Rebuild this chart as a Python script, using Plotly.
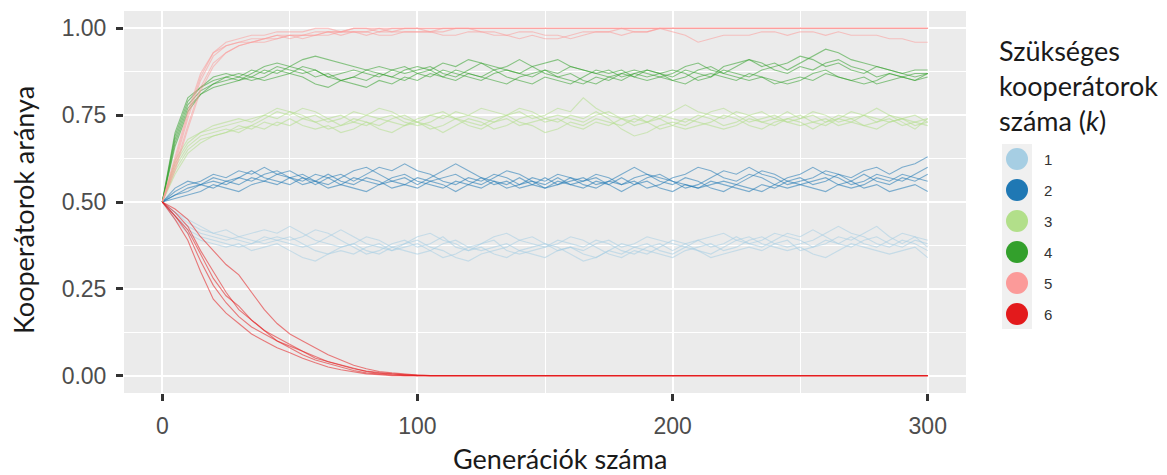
import plotly.graph_objects as go

# Generation grid shared by every run
generations = list(range(0, 301, 5))

# Proportion of cooperators per run, one list per replicate, grouped by k
k1_runs = [
    [0.50, 0.46, 0.43, 0.41, 0.40, 0.39, 0.40, 0.41, 0.42, 0.41,
     0.43, 0.41, 0.39, 0.38, 0.37, 0.38, 0.40, 0.39, 0.37, 0.36,
     0.35, 0.36, 0.38, 0.39, 0.37, 0.36, 0.37, 0.38, 0.36, 0.35,
     0.34, 0.36, 0.37, 0.36, 0.38, 0.39, 0.37, 0.38, 0.40, 0.39,
     0.38, 0.37, 0.39, 0.40, 0.41, 0.39, 0.38, 0.37, 0.39, 0.41,
     0.40, 0.42, 0.40, 0.38, 0.37, 0.39, 0.40, 0.38, 0.37, 0.39,
     0.38],
    [0.50, 0.47, 0.44, 0.42, 0.41, 0.42, 0.40, 0.39, 0.38, 0.39,
     0.40, 0.38, 0.36, 0.35, 0.37, 0.38, 0.36, 0.35, 0.37, 0.38,
     0.39, 0.37, 0.36, 0.34, 0.33, 0.35, 0.36, 0.37, 0.39, 0.40,
     0.38, 0.36, 0.37, 0.35, 0.34, 0.36, 0.38, 0.37, 0.36, 0.35,
     0.34, 0.36, 0.37, 0.38, 0.36, 0.37, 0.39, 0.40, 0.38, 0.37,
     0.38, 0.39, 0.41, 0.43, 0.41, 0.40, 0.38, 0.37, 0.39, 0.38,
     0.36],
    [0.50, 0.45, 0.41, 0.39, 0.38, 0.37, 0.38, 0.36, 0.37, 0.38,
     0.36, 0.34, 0.33, 0.35, 0.36, 0.35, 0.37, 0.38, 0.36, 0.38,
     0.40, 0.41, 0.39, 0.38, 0.36, 0.37, 0.35, 0.34, 0.36, 0.37,
     0.38, 0.37, 0.35, 0.33, 0.34, 0.36, 0.35, 0.37, 0.38, 0.36,
     0.35, 0.37, 0.36, 0.35, 0.37, 0.39, 0.40, 0.38, 0.37, 0.36,
     0.37, 0.35, 0.34, 0.36, 0.38, 0.37, 0.36, 0.35, 0.36, 0.37,
     0.34],
    [0.50, 0.47, 0.45, 0.43, 0.41, 0.40, 0.39, 0.38, 0.40, 0.39,
     0.38, 0.37, 0.38, 0.40, 0.42, 0.40, 0.38, 0.37, 0.36, 0.37,
     0.38, 0.36, 0.34, 0.35, 0.37, 0.38, 0.40, 0.41, 0.39, 0.38,
     0.37, 0.39, 0.38, 0.37, 0.39, 0.38, 0.36, 0.35, 0.37, 0.38,
     0.36, 0.38, 0.39, 0.37, 0.38, 0.40, 0.38, 0.39, 0.41, 0.40,
     0.39, 0.37, 0.38, 0.40, 0.39, 0.41, 0.43, 0.40, 0.38, 0.40,
     0.39],
    [0.50, 0.46, 0.42, 0.40, 0.39, 0.38, 0.37, 0.38, 0.39, 0.40,
     0.39, 0.40, 0.42, 0.41, 0.39, 0.37, 0.35, 0.36, 0.38, 0.39,
     0.37, 0.38, 0.40, 0.37, 0.36, 0.38, 0.39, 0.36, 0.35, 0.36,
     0.37, 0.38, 0.40, 0.39, 0.37, 0.35, 0.34, 0.36, 0.35, 0.37,
     0.39, 0.38, 0.36, 0.34, 0.35, 0.36, 0.37, 0.36, 0.38, 0.39,
     0.36, 0.37, 0.39, 0.38, 0.40, 0.38, 0.37, 0.39, 0.41, 0.40,
     0.37],
]

k2_runs = [
    [0.50, 0.53, 0.55, 0.56, 0.58, 0.57, 0.59, 0.58, 0.60, 0.58,
     0.57, 0.55, 0.56, 0.54, 0.55, 0.57, 0.56, 0.55, 0.57, 0.58,
     0.56, 0.55, 0.54, 0.56, 0.55, 0.57, 0.56, 0.54, 0.55, 0.57,
     0.56, 0.58, 0.57, 0.55, 0.54, 0.56, 0.55, 0.57, 0.58, 0.56,
     0.55, 0.57, 0.56, 0.54, 0.53, 0.55, 0.57, 0.59, 0.58, 0.56,
     0.57, 0.55, 0.56, 0.58, 0.57, 0.59, 0.60, 0.58, 0.60, 0.61,
     0.63],
    [0.50, 0.52, 0.54, 0.55, 0.54, 0.56, 0.55, 0.57, 0.56, 0.58,
     0.59, 0.57, 0.55, 0.57, 0.58, 0.56, 0.58, 0.60, 0.59, 0.61,
     0.59, 0.58, 0.56, 0.55, 0.57, 0.56, 0.58, 0.57, 0.55, 0.56,
     0.54, 0.55, 0.57, 0.56, 0.58, 0.57, 0.55, 0.56, 0.54, 0.55,
     0.57, 0.58, 0.60, 0.59, 0.57, 0.56, 0.58, 0.57, 0.55, 0.57,
     0.58, 0.60, 0.58, 0.57, 0.55, 0.56, 0.58, 0.57, 0.56, 0.58,
     0.60],
    [0.50, 0.51, 0.52, 0.53, 0.55, 0.54, 0.53, 0.55, 0.56, 0.55,
     0.57, 0.56, 0.58, 0.57, 0.55, 0.54, 0.53, 0.55, 0.56, 0.55,
     0.54, 0.56, 0.55, 0.53, 0.55, 0.54, 0.56, 0.55, 0.57, 0.55,
     0.54, 0.56, 0.55, 0.54, 0.56, 0.55, 0.57, 0.55, 0.56, 0.54,
     0.53, 0.55, 0.54, 0.56, 0.55, 0.54, 0.53, 0.55, 0.54, 0.56,
     0.55, 0.54, 0.53, 0.55, 0.56, 0.54, 0.55, 0.53, 0.54, 0.55,
     0.53],
    [0.50, 0.54, 0.56, 0.55, 0.57, 0.56, 0.57, 0.56, 0.58, 0.59,
     0.57, 0.58, 0.56, 0.55, 0.57, 0.59, 0.60, 0.58, 0.56, 0.57,
     0.55, 0.57, 0.59, 0.61, 0.59, 0.57, 0.55, 0.56, 0.54, 0.55,
     0.57, 0.55, 0.56, 0.57, 0.55, 0.56, 0.58, 0.60, 0.58, 0.57,
     0.56, 0.54, 0.55, 0.57, 0.59, 0.58, 0.60, 0.58, 0.57, 0.55,
     0.56, 0.57, 0.59, 0.58, 0.56, 0.58, 0.56, 0.55, 0.57, 0.56,
     0.58],
    [0.50, 0.52, 0.53, 0.55, 0.56, 0.55, 0.57, 0.59, 0.57, 0.56,
     0.55, 0.57, 0.56, 0.58, 0.56, 0.55, 0.57, 0.56, 0.54, 0.55,
     0.57, 0.56, 0.57, 0.58, 0.56, 0.55, 0.57, 0.59, 0.58, 0.56,
     0.55, 0.57, 0.55, 0.56, 0.57, 0.55, 0.53, 0.55, 0.57, 0.58,
     0.56, 0.55, 0.54, 0.55, 0.56, 0.55, 0.54, 0.53, 0.55, 0.54,
     0.55, 0.56, 0.57, 0.55, 0.54, 0.55, 0.57, 0.56, 0.58, 0.57,
     0.56],
]

k3_runs = [
    [0.50, 0.61, 0.67, 0.70, 0.71, 0.72, 0.73, 0.74, 0.75, 0.74,
     0.76, 0.75, 0.73, 0.74, 0.72, 0.73, 0.75, 0.74, 0.73, 0.72,
     0.74, 0.75, 0.74, 0.76, 0.75, 0.74, 0.73, 0.75, 0.76, 0.74,
     0.75, 0.77, 0.76, 0.80, 0.77, 0.75, 0.74, 0.72, 0.73, 0.75,
     0.74, 0.73, 0.75, 0.74, 0.72, 0.73, 0.75, 0.76, 0.74, 0.73,
     0.74, 0.75, 0.73, 0.74, 0.76, 0.75, 0.73, 0.74, 0.72, 0.73,
     0.74],
    [0.50, 0.59, 0.65, 0.68, 0.69, 0.70, 0.71, 0.72, 0.74, 0.76,
     0.75, 0.77, 0.76, 0.74, 0.75, 0.73, 0.72, 0.74, 0.75, 0.73,
     0.72, 0.73, 0.75, 0.74, 0.72, 0.71, 0.73, 0.74, 0.72, 0.73,
     0.74, 0.73, 0.75, 0.74, 0.76, 0.74, 0.71, 0.69, 0.70, 0.72,
     0.73, 0.72, 0.74, 0.76, 0.77, 0.75, 0.73, 0.74, 0.75, 0.73,
     0.72, 0.73, 0.74, 0.72, 0.73, 0.75, 0.74, 0.73, 0.74, 0.72,
     0.73],
    [0.50, 0.60, 0.66, 0.69, 0.70, 0.71, 0.70, 0.72, 0.71, 0.73,
     0.72, 0.74, 0.73, 0.71, 0.72, 0.74, 0.73, 0.71, 0.70, 0.72,
     0.73, 0.71, 0.72, 0.74, 0.73, 0.72, 0.74, 0.75, 0.73, 0.72,
     0.70, 0.71, 0.73, 0.72, 0.74, 0.73, 0.72, 0.74, 0.73, 0.71,
     0.72, 0.74, 0.73, 0.72, 0.71, 0.72, 0.74, 0.73, 0.72, 0.74,
     0.75, 0.73, 0.72, 0.74, 0.73, 0.72, 0.71, 0.73, 0.74, 0.73,
     0.72],
    [0.50, 0.62, 0.68, 0.70, 0.72, 0.73, 0.74, 0.73, 0.75, 0.77,
     0.76, 0.74, 0.75, 0.73, 0.74, 0.76, 0.75, 0.77, 0.76, 0.74,
     0.73, 0.75, 0.76, 0.74, 0.75, 0.77, 0.76, 0.75, 0.77, 0.76,
     0.74, 0.75, 0.74, 0.73, 0.75, 0.76, 0.74, 0.75, 0.73, 0.74,
     0.76, 0.78, 0.76, 0.75, 0.74, 0.76, 0.75, 0.73, 0.74, 0.76,
     0.74, 0.76, 0.75, 0.73, 0.74, 0.75, 0.77, 0.75, 0.74, 0.75,
     0.73],
    [0.50, 0.58, 0.64, 0.67, 0.69, 0.70, 0.72, 0.71, 0.73, 0.72,
     0.74, 0.72, 0.71, 0.72, 0.70, 0.71, 0.73, 0.72, 0.74, 0.75,
     0.73, 0.72, 0.70, 0.72, 0.74, 0.73, 0.71, 0.72, 0.74, 0.75,
     0.73, 0.74, 0.72, 0.71, 0.73, 0.72, 0.74, 0.73, 0.75, 0.74,
     0.72, 0.71, 0.72, 0.73, 0.75, 0.74, 0.72, 0.71, 0.73, 0.74,
     0.73, 0.71, 0.73, 0.75, 0.74, 0.72, 0.73, 0.75, 0.73, 0.71,
     0.74],
]

k4_runs = [
    [0.50, 0.69, 0.79, 0.83, 0.85, 0.86, 0.87, 0.86, 0.88, 0.87,
     0.89, 0.91, 0.92, 0.91, 0.90, 0.89, 0.88, 0.89, 0.88, 0.87,
     0.88, 0.89, 0.87, 0.86, 0.88, 0.90, 0.89, 0.88, 0.87, 0.89,
     0.90, 0.91, 0.89, 0.88, 0.87, 0.88, 0.86, 0.87, 0.88, 0.87,
     0.86, 0.88, 0.87, 0.86, 0.89, 0.90, 0.91, 0.89, 0.90, 0.88,
     0.90, 0.92, 0.94, 0.93, 0.91, 0.90, 0.89, 0.88, 0.87, 0.86,
     0.87],
    [0.50, 0.67, 0.77, 0.81, 0.84, 0.85, 0.86, 0.85, 0.86, 0.88,
     0.87, 0.86, 0.84, 0.83, 0.85, 0.86, 0.85, 0.87, 0.86, 0.85,
     0.87, 0.88, 0.86, 0.85, 0.87, 0.86, 0.85, 0.84, 0.86, 0.87,
     0.88, 0.86, 0.85, 0.84, 0.86, 0.85, 0.87, 0.86, 0.88, 0.87,
     0.85, 0.86, 0.88, 0.89, 0.87, 0.86, 0.85, 0.86, 0.84, 0.85,
     0.86, 0.85, 0.87, 0.86, 0.85, 0.86, 0.84, 0.85, 0.86, 0.85,
     0.86],
    [0.50, 0.70, 0.80, 0.83, 0.86, 0.87, 0.86, 0.88, 0.87, 0.89,
     0.88, 0.87, 0.88, 0.86, 0.87, 0.88, 0.87, 0.86, 0.88, 0.89,
     0.87, 0.86, 0.88, 0.87, 0.86, 0.85, 0.87, 0.88, 0.87, 0.86,
     0.88, 0.87, 0.89, 0.88, 0.87, 0.86, 0.85, 0.87, 0.86, 0.87,
     0.88, 0.87, 0.85, 0.86, 0.88, 0.87, 0.86, 0.88, 0.89, 0.90,
     0.92, 0.91, 0.89, 0.90, 0.88, 0.87, 0.89, 0.88, 0.87, 0.88,
     0.88],
    [0.50, 0.68, 0.78, 0.82, 0.84, 0.86, 0.85, 0.87, 0.89, 0.90,
     0.89, 0.88, 0.86, 0.87, 0.85, 0.86, 0.88, 0.87, 0.86, 0.88,
     0.89, 0.88, 0.90, 0.89, 0.91, 0.90, 0.88, 0.86, 0.85, 0.84,
     0.86, 0.85, 0.84, 0.86, 0.88, 0.87, 0.88, 0.86, 0.85, 0.86,
     0.87, 0.89, 0.90, 0.88, 0.87, 0.89, 0.91, 0.90, 0.88, 0.87,
     0.89, 0.88, 0.90, 0.91, 0.89, 0.88, 0.86, 0.87, 0.86, 0.87,
     0.87],
    [0.50, 0.66, 0.76, 0.81, 0.83, 0.84, 0.85, 0.86, 0.85, 0.86,
     0.87, 0.89, 0.88, 0.86, 0.85, 0.84, 0.83, 0.85, 0.84, 0.86,
     0.85, 0.87, 0.86, 0.88, 0.87, 0.86, 0.88, 0.89, 0.91, 0.89,
     0.87, 0.86, 0.87, 0.85, 0.84, 0.86, 0.87, 0.88, 0.87, 0.86,
     0.85, 0.84, 0.86, 0.87, 0.86, 0.85, 0.87, 0.86, 0.85, 0.84,
     0.85, 0.87, 0.88, 0.86, 0.85, 0.84, 0.85, 0.87, 0.86, 0.85,
     0.87],
]

k5_runs = [
    [0.50, 0.61, 0.74, 0.85, 0.92, 0.95, 0.96, 0.97, 0.97, 0.98,
     0.98, 0.98, 0.99, 0.99, 0.99, 1.00, 1.00, 0.99, 1.00, 1.00,
     1.00, 1.00, 1.00, 1.00, 1.00, 1.00, 1.00, 1.00, 1.00, 1.00,
     1.00, 1.00, 1.00, 1.00, 1.00, 1.00, 1.00, 1.00, 1.00, 1.00,
     1.00, 1.00, 1.00, 1.00, 1.00, 1.00, 1.00, 1.00, 1.00, 1.00,
     1.00, 1.00, 1.00, 1.00, 1.00, 1.00, 1.00, 1.00, 1.00, 1.00,
     1.00],
    [0.50, 0.62, 0.75, 0.86, 0.93, 0.95, 0.96, 0.96, 0.97, 0.98,
     0.97, 0.98, 0.98, 0.99, 0.99, 0.99, 0.98, 0.99, 0.99, 1.00,
     1.00, 0.99, 0.99, 1.00, 1.00, 0.99, 0.99, 0.98, 0.99, 0.99,
     0.98, 0.98, 0.97, 0.98, 0.99, 0.99, 0.98, 0.99, 0.99, 1.00,
     0.99, 0.98, 0.96, 0.97, 0.98, 0.98, 0.98, 0.99, 0.99, 0.98,
     0.99, 0.99, 0.98, 0.99, 0.98, 0.98, 0.98, 0.97, 0.97, 0.96,
     0.96],
    [0.50, 0.60, 0.72, 0.83, 0.90, 0.93, 0.95, 0.96, 0.97, 0.97,
     0.98, 0.98, 0.98, 0.99, 0.98, 0.99, 0.99, 0.98, 0.98, 0.99,
     0.99, 0.99, 0.98, 0.98, 0.99, 0.99, 0.98, 0.98, 0.97, 0.98,
     0.97, 0.97, 0.98, 0.99, 0.99, 0.99, 1.00, 0.99, 0.99, 1.00,
     1.00, 1.00, 1.00, 1.00, 1.00, 1.00, 1.00, 1.00, 1.00, 1.00,
     1.00, 1.00, 1.00, 1.00, 1.00, 1.00, 1.00, 1.00, 1.00, 1.00,
     1.00],
    [0.50, 0.63, 0.76, 0.87, 0.93, 0.96, 0.97, 0.98, 0.98, 0.99,
     0.99, 0.99, 1.00, 1.00, 0.99, 1.00, 1.00, 1.00, 1.00, 1.00,
     1.00, 1.00, 1.00, 1.00, 1.00, 1.00, 1.00, 1.00, 1.00, 1.00,
     1.00, 1.00, 1.00, 1.00, 1.00, 1.00, 1.00, 1.00, 1.00, 1.00,
     1.00, 1.00, 1.00, 1.00, 1.00, 1.00, 1.00, 1.00, 1.00, 1.00,
     1.00, 1.00, 1.00, 1.00, 1.00, 1.00, 1.00, 1.00, 1.00, 1.00,
     1.00],
    [0.50, 0.59, 0.71, 0.82, 0.89, 0.93, 0.95, 0.96, 0.96, 0.97,
     0.98, 0.97, 0.98, 0.98, 0.99, 0.99, 0.99, 1.00, 0.99, 0.99,
     0.99, 0.99, 1.00, 1.00, 1.00, 1.00, 1.00, 1.00, 1.00, 1.00,
     1.00, 1.00, 1.00, 1.00, 1.00, 1.00, 1.00, 1.00, 1.00, 1.00,
     1.00, 1.00, 1.00, 1.00, 1.00, 1.00, 1.00, 1.00, 1.00, 1.00,
     1.00, 1.00, 1.00, 1.00, 1.00, 1.00, 1.00, 1.00, 1.00, 1.00,
     1.00],
]

k6_runs = [
    [0.50, 0.45, 0.39, 0.30, 0.22, 0.18, 0.15, 0.12, 0.10, 0.08,
     0.066, 0.05, 0.037, 0.025, 0.017, 0.01, 0.005, 0.003, 0.0, 0.0,
     0.0, 0.0, 0.0, 0.0, 0.0, 0.0, 0.0, 0.0, 0.0, 0.0,
     0.0, 0.0, 0.0, 0.0, 0.0, 0.0, 0.0, 0.0, 0.0, 0.0,
     0.0, 0.0, 0.0, 0.0, 0.0, 0.0, 0.0, 0.0, 0.0, 0.0,
     0.0, 0.0, 0.0, 0.0, 0.0, 0.0, 0.0, 0.0, 0.0, 0.0,
     0.0],
    [0.50, 0.46, 0.41, 0.33, 0.26, 0.21, 0.17, 0.14, 0.12, 0.10,
     0.08, 0.06, 0.045, 0.035, 0.025, 0.015, 0.008, 0.004, 0.002, 0.0,
     0.0, 0.0, 0.0, 0.0, 0.0, 0.0, 0.0, 0.0, 0.0, 0.0,
     0.0, 0.0, 0.0, 0.0, 0.0, 0.0, 0.0, 0.0, 0.0, 0.0,
     0.0, 0.0, 0.0, 0.0, 0.0, 0.0, 0.0, 0.0, 0.0, 0.0,
     0.0, 0.0, 0.0, 0.0, 0.0, 0.0, 0.0, 0.0, 0.0, 0.0,
     0.0],
    [0.50, 0.47, 0.43, 0.36, 0.30, 0.24, 0.19, 0.16, 0.13, 0.10,
     0.085, 0.07, 0.05, 0.04, 0.03, 0.02, 0.012, 0.007, 0.004, 0.002,
     0.0, 0.0, 0.0, 0.0, 0.0, 0.0, 0.0, 0.0, 0.0, 0.0,
     0.0, 0.0, 0.0, 0.0, 0.0, 0.0, 0.0, 0.0, 0.0, 0.0,
     0.0, 0.0, 0.0, 0.0, 0.0, 0.0, 0.0, 0.0, 0.0, 0.0,
     0.0, 0.0, 0.0, 0.0, 0.0, 0.0, 0.0, 0.0, 0.0, 0.0,
     0.0],
    [0.50, 0.48, 0.45, 0.40, 0.36, 0.32, 0.29, 0.24, 0.19, 0.15,
     0.12, 0.10, 0.08, 0.06, 0.045, 0.03, 0.02, 0.012, 0.008, 0.004,
     0.002, 0.0, 0.0, 0.0, 0.0, 0.0, 0.0, 0.0, 0.0, 0.0,
     0.0, 0.0, 0.0, 0.0, 0.0, 0.0, 0.0, 0.0, 0.0, 0.0,
     0.0, 0.0, 0.0, 0.0, 0.0, 0.0, 0.0, 0.0, 0.0, 0.0,
     0.0, 0.0, 0.0, 0.0, 0.0, 0.0, 0.0, 0.0, 0.0, 0.0,
     0.0],
    [0.50, 0.46, 0.42, 0.35, 0.28, 0.23, 0.20, 0.16, 0.13, 0.11,
     0.09, 0.07, 0.055, 0.04, 0.03, 0.02, 0.013, 0.008, 0.005, 0.003,
     0.001, 0.0, 0.0, 0.0, 0.0, 0.0, 0.0, 0.0, 0.0, 0.0,
     0.0, 0.0, 0.0, 0.0, 0.0, 0.0, 0.0, 0.0, 0.0, 0.0,
     0.0, 0.0, 0.0, 0.0, 0.0, 0.0, 0.0, 0.0, 0.0, 0.0,
     0.0, 0.0, 0.0, 0.0, 0.0, 0.0, 0.0, 0.0, 0.0, 0.0,
     0.0],
]

k_labels = ["1", "2", "3", "4", "5", "6"]
k_colors = ["#A6CEE3", "#1F78B4", "#B2DF8A", "#33A02C", "#FB9A99", "#E31A1C"]
runs_by_k = [k1_runs, k2_runs, k3_runs, k4_runs, k5_runs, k6_runs]

x_tick_vals = [0, 100, 200, 300]
x_tick_text = ["0", "100", "200", "300"]
y_tick_vals = [0.0, 0.25, 0.5, 0.75, 1.0]
y_tick_text = ["0.00", "0.25", "0.50", "0.75", "1.00"]


def rgba(hex_color, alpha):
    h = hex_color.lstrip("#")
    r, g, b = int(h[0:2], 16), int(h[2:4], 16), int(h[4:6], 16)
    return f"rgba({r},{g},{b},{alpha})"


fig = go.Figure()

for label, color, runs in zip(k_labels, k_colors, runs_by_k):
    for run in runs:
        fig.add_trace(go.Scatter(
            x=generations, y=run, mode="lines",
            line=dict(color=rgba(color, 0.55), width=1.1),
            name=label, legendgroup=label, showlegend=False,
            hoverinfo="skip",
        ))

# Panel placement in pixels
W, H = 1167, 475
ML, MR, MT, MB = 124, 201, 11, 82
PW, PH = W - ML - MR, H - MT - MB


def px_x(px):
    return (px - ML) / PW


def px_y(py):
    return (H - MB - py) / PH


tick_font = dict(family="Liberation Sans, Arial, sans-serif", size=23, color="#4D4D4D")
title_font = dict(family="Lato, Open Sans, sans-serif", size=27, color="#1A1A1A")

axis_common = dict(
    showgrid=True, gridcolor="white", gridwidth=2,
    zeroline=False, showline=False,
    ticks="outside", ticklen=7, tickwidth=2.5, tickcolor="#333333",
    ticklabelstandoff=5,
    tickfont=tick_font, tickmode="array",
)

fig.update_xaxes(
    range=[-15, 315], tickvals=x_tick_vals, ticktext=x_tick_text,
    minor=dict(tickmode="array", tickvals=[50, 150, 250], showgrid=True,
               gridcolor="white", gridwidth=1, ticks=""),
    **axis_common,
)
fig.update_yaxes(
    range=[-0.05, 1.05], tickvals=y_tick_vals, ticktext=y_tick_text,
    minor=dict(tickmode="array", tickvals=[0.125, 0.375, 0.625, 0.875], showgrid=True,
               gridcolor="white", gridwidth=1, ticks=""),
    **axis_common,
)

annotations = [
    dict(text="Generációk száma", xref="paper", yref="paper",
         x=px_x(560), y=px_y(458), xanchor="center", yanchor="middle",
         showarrow=False, font=title_font),
    dict(text="Kooperátorok aránya", xref="paper", yref="paper",
         x=px_x(23), y=px_y(210), xanchor="center", yanchor="middle",
         textangle=-90, showarrow=False, font=title_font),
    dict(text="Szükséges<br>kooperátorok<br>száma (<i>k</i>)", xref="paper", yref="paper",
         x=px_x(997), y=px_y(85), xanchor="left", yanchor="middle", align="left",
         showarrow=False, font=title_font),
]

shapes = [
    dict(type="rect", xref="paper", yref="paper",
         x0=px_x(1002), x1=px_x(1032), y0=px_y(329), y1=px_y(144),
         fillcolor="#F0F0F0", line=dict(width=0), layer="below"),
]

key_x = 1017
for i, (label, color) in enumerate(zip(k_labels, k_colors)):
    cy = 159 + 31 * i
    shapes.append(dict(
        type="circle", xref="paper", yref="paper",
        xsizemode="pixel", ysizemode="pixel",
        xanchor=px_x(key_x), yanchor=px_y(cy),
        x0=-11, x1=11, y0=-11, y1=11,
        fillcolor=color, line=dict(width=0),
    ))
    annotations.append(dict(
        text=label, xref="paper", yref="paper",
        x=px_x(1042), y=px_y(cy), xanchor="left", yanchor="middle",
        showarrow=False,
        font=dict(family="Liberation Sans, Arial, sans-serif", size=15, color="#333333"),
    ))

fig.update_layout(
    width=W, height=H,
    margin=dict(l=ML, r=MR, t=MT, b=MB),
    paper_bgcolor="white", plot_bgcolor="#EBEBEB",
    showlegend=False,
    annotations=annotations, shapes=shapes,
)

fig.write_html("out.html")
